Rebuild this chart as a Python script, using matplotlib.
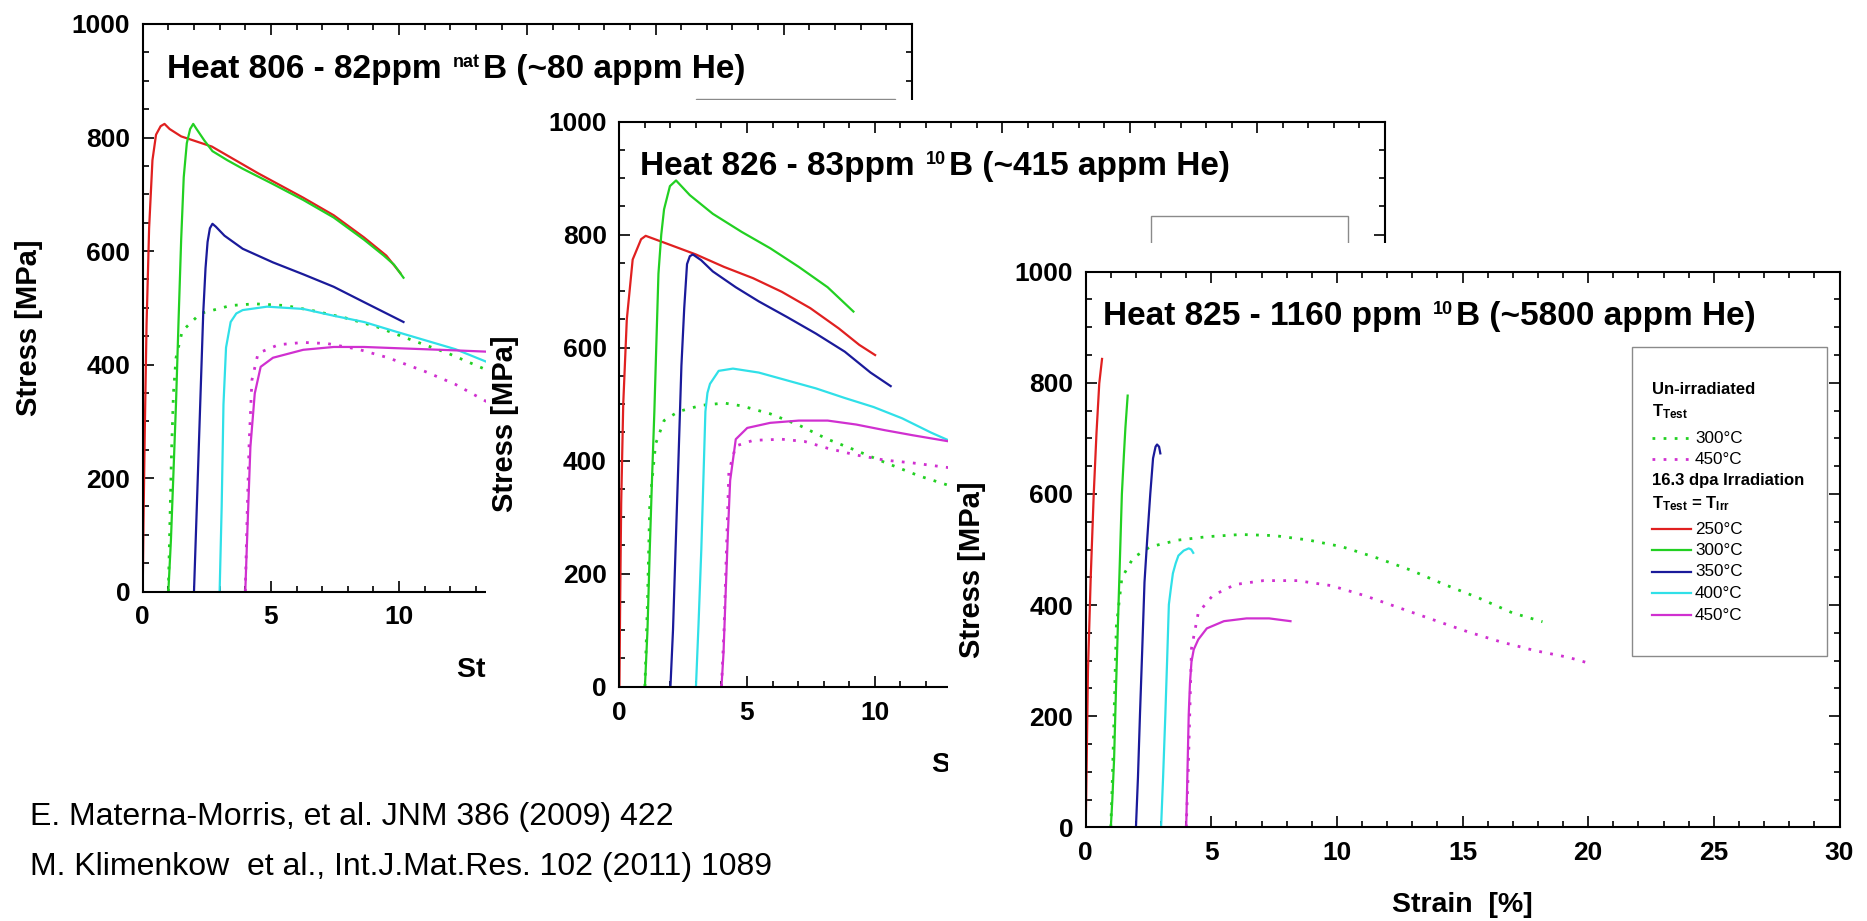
import matplotlib
matplotlib.use('Agg')
import matplotlib.pyplot as plt
from matplotlib.patches import Rectangle
from matplotlib.lines import Line2D
from matplotlib.ticker import MultipleLocator
from matplotlib.transforms import offset_copy

plt.rcParams['font.family'] = ['Liberation Sans', 'DejaVu Sans']
plt.rcParams['font.weight'] = 'bold'
plt.rcParams['mathtext.fontset'] = 'custom'
plt.rcParams['mathtext.rm'] = 'Liberation Sans:bold'
plt.rcParams['mathtext.bf'] = 'Liberation Sans:bold'
plt.rcParams['mathtext.it'] = 'Liberation Sans:bold'

# ---------------- data (strain %, stress MPa) ----------------
# Heat 806
p1_250_x = [0.0, 0.03, 0.08, 0.15, 0.25, 0.38, 0.52, 0.7, 0.85, 1.05, 1.5, 2.7, 4.5, 6.26, 7.45, 8.63, 9.5, 10.05]
p1_250_y = [0, 120, 280, 470, 640, 760, 805, 820, 824, 815, 802, 784, 737, 694, 663, 624, 592, 561]
p1_300_x = [1.0, 1.1, 1.2, 1.3, 1.4, 1.5, 1.6, 1.72, 1.85, 1.97, 2.1, 2.4, 2.72, 3.3, 3.9, 5.08, 6.26, 7.45, 8.63, 9.4, 9.8, 10.17]
p1_300_y = [0, 90, 210, 333, 480, 620, 730, 790, 815, 824, 815, 795, 776, 760, 745, 718, 690, 659, 620, 592, 576, 553]
p1_350_x = [2.0, 2.13, 2.25, 2.36, 2.45, 2.53, 2.62, 2.72, 2.85, 3.19, 3.9, 5.08, 6.26, 7.45, 8.63, 10.17]
p1_350_y = [0, 176, 340, 490, 570, 616, 640, 648, 643, 627, 604, 580, 559, 537, 510, 475]
p1_400_x = [3.0, 3.08, 3.15, 3.25, 3.43, 3.65, 3.9, 4.85, 6.26, 7.45, 8.63, 9.8, 11.0, 12.2, 13.4, 13.8]
p1_400_y = [0, 150, 330, 430, 475, 490, 496, 502, 498, 486, 475, 459, 443, 427, 405, 402]
p1_450_x = [4.0, 4.1, 4.2, 4.37, 4.6, 5.08, 6.26, 7.45, 8.63, 9.8, 11.0, 12.2, 13.8]
p1_450_y = [0, 130, 255, 349, 396, 412, 426, 431, 431, 429, 427, 425, 422]
p1_u300_x = [1.0, 1.06, 1.13, 1.2, 1.3, 1.54, 2.25, 3.43, 4.37, 5.56, 6.74, 7.92, 9.1, 10.5, 11.9, 13.8]
p1_u300_y = [0, 120, 255, 350, 412, 459, 490, 504, 507, 504, 494, 482, 467, 443, 420, 383]
p1_u450_x = [4.0, 4.07, 4.15, 4.26, 4.5, 5.3, 6.26, 7.2, 8.4, 9.57, 11.0, 12.2, 13.8]
p1_u450_y = [0, 130, 260, 373, 420, 435, 439, 437, 427, 412, 388, 365, 325]

# Heat 826
p2_250_x = [0.0, 0.03, 0.07, 0.15, 0.29, 0.52, 0.85, 1.03, 1.87, 3.0, 4.1, 5.24, 6.36, 7.48, 8.6, 9.4, 10.02]
p2_250_y = [0, 150, 324, 500, 650, 756, 792, 798, 784, 765, 743, 723, 699, 670, 634, 605, 587]
p2_300_x = [1.0, 1.1, 1.19, 1.28, 1.37, 1.45, 1.53, 1.64, 1.75, 1.98, 2.22, 2.76, 3.66, 4.79, 5.91, 7.03, 8.16, 9.17]
p2_300_y = [0, 100, 243, 370, 487, 610, 731, 800, 845, 886, 896, 870, 837, 805, 776, 743, 707, 664]
p2_350_x = [2.0, 2.1, 2.2, 2.32, 2.43, 2.54, 2.65, 2.76, 2.88, 3.2, 3.66, 4.56, 5.46, 6.58, 7.7, 8.83, 9.84, 10.63]
p2_350_y = [0, 100, 243, 410, 568, 670, 748, 762, 765, 755, 735, 707, 682, 654, 625, 593, 556, 532]
p2_400_x = [3.0, 3.1, 3.21, 3.3, 3.37, 3.45, 3.55, 3.89, 4.45, 5.46, 6.58, 7.7, 8.83, 9.96, 11.08, 12.2, 13.2]
p2_400_y = [0, 110, 243, 380, 487, 520, 536, 559, 563, 556, 542, 528, 511, 495, 475, 450, 430]
p2_450_x = [4.0, 4.08, 4.16, 4.25, 4.34, 4.56, 5.01, 5.91, 7.03, 8.16, 9.28, 10.4, 11.5, 13.2]
p2_450_y = [0, 60, 161, 270, 365, 438, 458, 467, 471, 471, 464, 454, 445, 432]
p2_u300_x = [1.0, 1.1, 1.19, 1.42, 1.75, 2.31, 3.21, 4.11, 4.79, 5.91, 7.03, 8.16, 9.28, 10.4, 11.75, 13.2]
p2_u300_y = [0, 150, 324, 430, 471, 487, 498, 502, 497, 483, 463, 438, 418, 397, 373, 352]
p2_u450_x = [4.0, 4.1, 4.2, 4.29, 4.56, 5.24, 6.36, 7.26, 8.16, 9.28, 10.4, 11.5, 13.2]
p2_u450_y = [0, 100, 250, 381, 426, 436, 438, 434, 422, 410, 401, 396, 386]

# Heat 825
p3_250_x = [0.0, 0.04, 0.09, 0.2, 0.32, 0.43, 0.54, 0.65]
p3_250_y = [0, 120, 282, 450, 600, 710, 799, 843]
p3_300_x = [1.0, 1.06, 1.13, 1.2, 1.28, 1.36, 1.44, 1.52, 1.58, 1.67]
p3_300_y = [0, 50, 123, 240, 362, 480, 600, 670, 719, 777]
p3_350_x = [2.0, 2.08, 2.16, 2.25, 2.34, 2.45, 2.57, 2.68, 2.78, 2.84, 2.92, 2.97]
p3_350_y = [0, 90, 203, 320, 441, 520, 600, 664, 685, 689, 685, 673]
p3_400_x = [3.0, 3.08, 3.17, 3.24, 3.31, 3.39, 3.47, 3.58, 3.69, 3.9, 4.1, 4.2, 4.28]
p3_400_y = [0, 90, 203, 300, 401, 430, 457, 475, 489, 498, 502, 500, 494]
p3_450_x = [4.0, 4.05, 4.1, 4.15, 4.21, 4.3, 4.48, 4.82, 5.5, 6.4, 7.3, 8.15]
p3_450_y = [0, 100, 203, 260, 298, 320, 338, 358, 371, 376, 376, 371]
p3_u300_x = [1.0, 1.07, 1.13, 1.22, 1.44, 1.89, 2.57, 3.69, 4.82, 6.17, 7.52, 8.87, 10.2, 11.58, 12.93, 14.28, 15.63, 16.98, 18.18]
p3_u300_y = [0, 100, 203, 362, 449, 485, 505, 517, 523, 527, 525, 517, 505, 485, 463, 437, 413, 386, 370]
p3_u450_x = [4.0, 4.08, 4.14, 4.21, 4.48, 5.05, 5.95, 7.07, 8.42, 9.77, 11.1, 12.48, 13.8, 15.2, 16.5, 17.88, 19.2, 19.9]
p3_u450_y = [0, 100, 203, 322, 386, 417, 437, 444, 444, 435, 417, 395, 374, 352, 334, 318, 306, 297]

# title pieces: (before superscript, superscript, after superscript)
titles = [('Heat 806 - 82ppm', 'nat', 'B (~80 appm He)'),
          ('Heat 826 - 83ppm', '10', 'B (~415 appm He)'),
          ('Heat 825 - 1160 ppm', '10', 'B (~5800 appm He)')]
temps_irr = ['250°C', '300°C', '350°C', '400°C', '450°C']
temps_unirr = ['300°C', '450°C']
ref_lines = ['E. Materna-Morris, et al. JNM 386 (2009) 422',
             'M. Klimenkow  et al., Int.J.Mat.Res. 102 (2011) 1089']

colors = {'250': '#e02020', '300': '#22d022', '350': '#1a1a9a', '400': '#30e0e8', '450': '#d030d0'}
DOT = (0, (1, 3))

panels = [
    dict(irr=[(p1_250_x, p1_250_y), (p1_300_x, p1_300_y), (p1_350_x, p1_350_y), (p1_400_x, p1_400_y), (p1_450_x, p1_450_y)],
         un=[(p1_u300_x, p1_u300_y), (p1_u450_x, p1_u450_y)]),
    dict(irr=[(p2_250_x, p2_250_y), (p2_300_x, p2_300_y), (p2_350_x, p2_350_y), (p2_400_x, p2_400_y), (p2_450_x, p2_450_y)],
         un=[(p2_u300_x, p2_u300_y), (p2_u450_x, p2_u450_y)]),
    dict(irr=[(p3_250_x, p3_250_y), (p3_300_x, p3_300_y), (p3_350_x, p3_350_y), (p3_400_x, p3_400_y), (p3_450_x, p3_450_y)],
         un=[(p3_u300_x, p3_u300_y), (p3_u450_x, p3_u450_y)]),
]

# ---------------- layout (pixels) ----------------
W, H = 1867, 921
fig = plt.figure(figsize=(W / 100, H / 100), dpi=100)
fig.patch.set_facecolor('white')
renderer = fig.canvas.get_renderer()


def frac(l, t, r, b):
    return [l / W, 1 - b / H, (r - l) / W, (b - t) / H]


axes_px = [(142.7, 24.0, 912.0, 591.6), (619.4, 121.7, 1385.0, 686.7), (1085.7, 271.7, 1839.5, 827.3)]
covers = [None, (486, 100, 1420, 800), (948, 243, W + 5, H + 5)]
title_px = [(167, 78), (640, 175), (1103, 325)]
legbox_px = [(696, 99, 895, 410), (1150.7, 215.7, 1347.7, 525), (1632.3, 347.3, 1826.7, 656)]
TFS = 24
SFS = 13

irr_keys = ['250', '300', '350', '400', '450']
un_keys = ['300', '450']

for i, (p, ap) in enumerate(zip(panels, axes_px)):
    l, t, r, b = ap
    w, h = r - l, b - t
    if covers[i] is not None:
        cl, ct, cr, cb = covers[i]
        fig.add_artist(Rectangle((cl / W, 1 - cb / H), (cr - cl) / W, (cb - ct) / H,
                                 transform=fig.transFigure, facecolor='white', edgecolor='none',
                                 zorder=i + 0.5))
    ax = fig.add_axes(frac(l, t, r, b))
    ax.set_zorder(i + 1)
    ax.set_facecolor('white')
    for (xs, ys), k in zip(p['un'], un_keys):
        ax.plot(xs, ys, color=colors[k], lw=2.0, linestyle=DOT)
    for (xs, ys), k in zip(p['irr'], irr_keys):
        ax.plot(xs, ys, color=colors[k], lw=1.6)
    ax.set_xlim(0, 30)
    ax.set_ylim(0, 1000)
    ax.xaxis.set_major_locator(MultipleLocator(5))
    ax.xaxis.set_minor_locator(MultipleLocator(1))
    ax.yaxis.set_major_locator(MultipleLocator(200))
    ax.yaxis.set_minor_locator(MultipleLocator(50))
    ax.tick_params(which='both', direction='in', top=True, right=True, width=1.2, labelsize=19)
    ax.tick_params(which='major', length=8)
    ax.tick_params(which='minor', length=4.5)
    ax.tick_params(axis='x', pad=10)
    ax.tick_params(axis='y', pad=9)
    for s in ax.spines.values():
        s.set_linewidth(1.5)
    ax.set_ylabel('Stress [MPa]', fontsize=21, fontweight='bold')
    ax.yaxis.label.set_va('center')
    ax.yaxis.set_label_coords(-114 / w, 0.5 - 20 / h)
    ax.set_xlabel('Strain  [%]', fontsize=20.5, fontweight='bold')
    ax.xaxis.label.set_va('center')
    ax.xaxis.set_label_coords(0.5, -78 / h)

    # title with small raised superscript
    tx, ty = title_px[i]
    pre, sup, post = titles[i]
    anchor = ((tx - l) / w, (b - ty) / h)
    t1 = ax.text(anchor[0], anchor[1], pre, transform=ax.transAxes, fontsize=TFS,
                 fontweight='bold', ha='left', va='baseline')
    w1 = t1.get_window_extent(renderer).width
    x_sup = w1 + 11
    t2 = ax.text(anchor[0], anchor[1], sup,
                 transform=offset_copy(ax.transAxes, fig, x=x_sup, y=11, units='dots'),
                 fontsize=SFS, fontweight='bold', ha='left', va='baseline')
    w2 = t2.get_window_extent(renderer).width
    ax.text(anchor[0], anchor[1], post,
            transform=offset_copy(ax.transAxes, fig, x=x_sup + w2 + 3, y=0, units='dots'),
            fontsize=TFS, fontweight='bold', ha='left', va='baseline')

    bl, bt, br, bb = legbox_px[i]
    ax.add_patch(Rectangle((bl / W, 1 - bb / H), (br - bl) / W, (bb - bt) / H, transform=fig.transFigure,
                           facecolor='white', edgecolor='#8a8a8a', lw=1.0, zorder=4))
    if i == 2:
        def fy(y):
            return 1 - y / H

        def fx(x):
            return x / W
        hdr = dict(transform=fig.transFigure, fontsize=12, fontweight='bold', ha='left', va='center', zorder=6)
        reg = dict(transform=fig.transFigure, fontsize=12.3, fontweight='normal', ha='left', va='center', zorder=6)
        ax.text(fx(1652.3), fy(389), 'Un-irradiated', **hdr)
        ax.text(fx(1652.3), fy(412), r'T$_{\mathbf{Test}}$', **hdr)
        rows_un = [438.3, 459.0]
        for k, yy, lab in zip(un_keys, rows_un, temps_unirr):
            ax.add_line(Line2D([fx(1652), fx(1690)], [fy(yy), fy(yy)], transform=fig.transFigure,
                               color=colors[k], lw=2.0, linestyle=DOT, zorder=6))
            ax.text(fx(1695), fy(yy), lab, **reg)
        ax.text(fx(1652.3), fy(480.7), '16.3 dpa Irradiation', **hdr)
        ax.text(fx(1652.3), fy(503.5), r'T$_{\mathbf{Test}}$ = T$_{\mathbf{Irr}}$', **hdr)
        rows_irr = [529.3, 550.0, 571.7, 593.3, 615.0]
        for k, yy, lab in zip(irr_keys, rows_irr, temps_irr):
            ax.add_line(Line2D([fx(1651.7), fx(1690.7)], [fy(yy), fy(yy)], transform=fig.transFigure,
                               color=colors[k], lw=1.6, zorder=6))
            ax.text(fx(1695), fy(yy), lab, **reg)

for yy, s in zip([816.7, 866.7], ref_lines):
    fig.text(30 / W, 1 - yy / H, s, fontsize=23, fontweight='normal', ha='left', va='center', zorder=10)

fig.savefig('out.png', dpi=100, facecolor='white')
